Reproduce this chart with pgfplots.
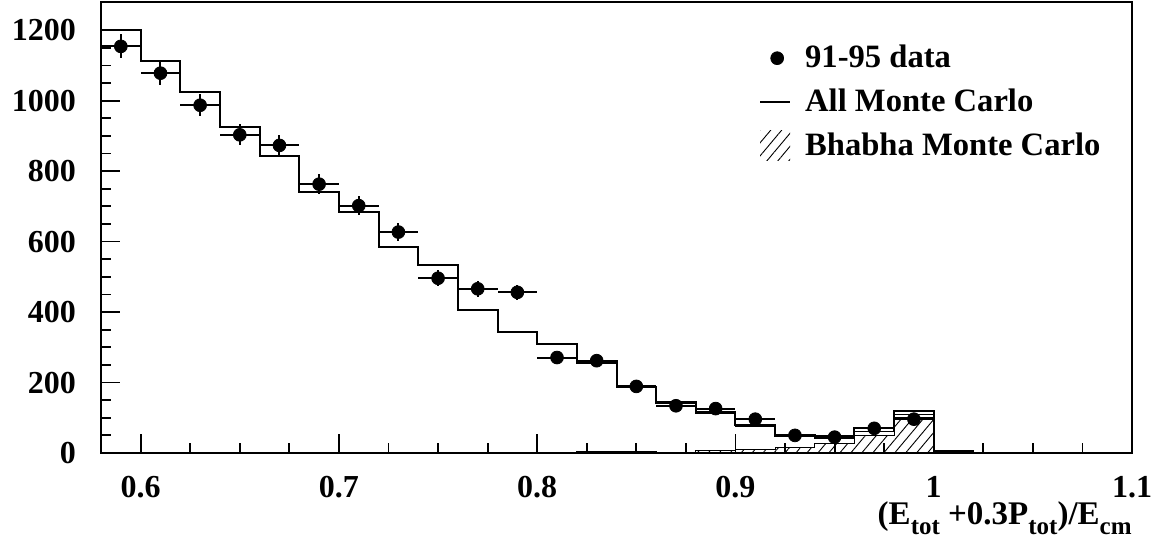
\documentclass[border=0pt]{standalone}
\usepackage{fontspec}
\setmainfont{Liberation Serif}
\usepackage{pgfplots}
\pgfplotsset{compat=1.18}
\usetikzlibrary{patterns.meta}

\tikzset{hatch/.style={pattern={Lines[angle=50,distance=4.2pt,line width=0.45pt]}}}
% larger, lower subscripts for the axis title
\newcommand{\sub}[1]{\raisebox{-0.3em}{\fontsize{12.5}{14}\selectfont #1}}

\begin{document}
\begin{tikzpicture}
\begin{axis}[
  scale only axis,
  width=515.5pt, height=225.5pt,
  xmin=0.58, xmax=1.1,
  ymin=0, ymax=1280,
  axis line style={line width=1.2pt},
  tick pos=left,
  tick align=inside,
  xtick={0.6,0.7,0.8,0.9,1.0,1.1},
  xticklabels={0.6,0.7,0.8,0.9,1,1.1},
  ytick={0,200,400,600,800,1000,1200},
  yticklabels={0,200,400,600,800,1000,1200},
  minor tick num=3,
  major tick length=9.5pt,
  minor tick length=4.8pt,
  every tick/.style={black, line width=0.9pt},
  tick label style={font=\bfseries\fontsize{16}{19}\selectfont},
  yticklabel style={xshift=-9pt},
  xticklabel style={yshift=-8pt},
  xlabel={(E\sub{tot} +0.3P\sub{tot})/E\sub{cm}},
  xlabel style={at={(rel axis cs:1,0)}, anchor=north east, yshift=-24pt, inner sep=0pt,
    font=\bfseries\fontsize{16.5}{19}\selectfont},
  legend style={draw=none, fill=none, at={(rel axis cs:0.638,0.918)}, anchor=north west,
    font=\bfseries\fontsize{16.3}{19}\selectfont, row sep=3pt,
    inner sep=0pt, nodes={inner sep=3pt},
    /tikz/every odd column/.append style={column sep=4pt}},
  legend cell align=left,
  reverse legend,
  clip=false,
]

% Bhabha Monte Carlo component (hatched)
\addplot[const plot, draw=black, line width=0.5pt, hatch,
  legend image code/.code={\path[hatch, draw=none] (0pt,-7.5pt) rectangle (15pt,7.5pt);}]
  coordinates {
  (0.58,0) (0.60,1) (0.62,0) (0.64,0) (0.66,0) (0.68,0) (0.70,0) (0.72,0)
  (0.74,1) (0.76,0) (0.78,2) (0.80,0) (0.82,4) (0.84,4) (0.86,0) (0.88,8)
  (0.90,10) (0.92,16) (0.94,26) (0.96,50) (0.98,100) (1.00,5) (1.02,5)
  } \closedcycle;
\addlegendentry{Bhabha Monte Carlo}

% second Monte Carlo sum (drawn without a legend entry)
\addplot[const plot, black, line width=0.7pt, forget plot] coordinates {
  (0.80,308) (0.82,255) (0.84,186) (0.86,141) (0.88,112) (0.90,77)
  (0.92,47) (0.94,42) (0.96,61) (0.98,110) (1.00,5) (1.02,5)
};

% All Monte Carlo
\addplot[const plot, black, line width=1pt,
  legend image code/.code={\draw[black, line width=1pt] (0pt,0pt) -- (15pt,0pt);}]
  coordinates {
  (0.58,1200) (0.60,1112) (0.62,1024) (0.64,925) (0.66,844) (0.68,741)
  (0.70,685) (0.72,585) (0.74,533) (0.76,407) (0.78,342) (0.80,308)
  (0.82,262) (0.84,186) (0.86,145) (0.88,115) (0.90,80) (0.92,51)
  (0.94,47) (0.96,70) (0.98,118) (1.00,5) (1.02,5) (1.02,0)
};
\addlegendentry{All Monte Carlo}

% 91-95 data with statistical errors
\addplot[only marks, mark=*, mark size=3.2pt, black,
  legend image code/.code={\fill[black] (8.5pt,0pt) circle (3.2pt);},
  error bars/.cd, x dir=both, x explicit, y dir=both, y explicit,
  error mark=none, error bar style={line width=1pt, black},
  ] table[x=x, y=y, x error=ex, y error=ey] {
  x     y     ex    ey
  0.59  1154  0.01  34
  0.61  1078  0.01  33
  0.63  987   0.01  31
  0.65  903   0.01  30
  0.67  873   0.01  30
  0.69  763   0.01  28
  0.71  702   0.01  26
  0.73  627   0.01  25
  0.75  496   0.01  22
  0.77  466   0.01  22
  0.79  456   0.01  21
  0.81  271   0.01  16
  0.83  262   0.01  16
  0.85  189   0.01  14
  0.87  134   0.01  12
  0.89  126   0.01  11
  0.91  96    0.01  10
  0.93  50    0.01  7
  0.95  45    0.01  7
  0.97  70    0.01  8
  0.99  96    0.01  10
};
\addlegendentry{91-95 data}
\end{axis}

\pgfresetboundingbox
\path ([shift={(-50.5pt,-43pt)}]current axis.south west) rectangle ([shift={(16pt,1pt)}]current axis.north east);
\end{tikzpicture}
\end{document}
